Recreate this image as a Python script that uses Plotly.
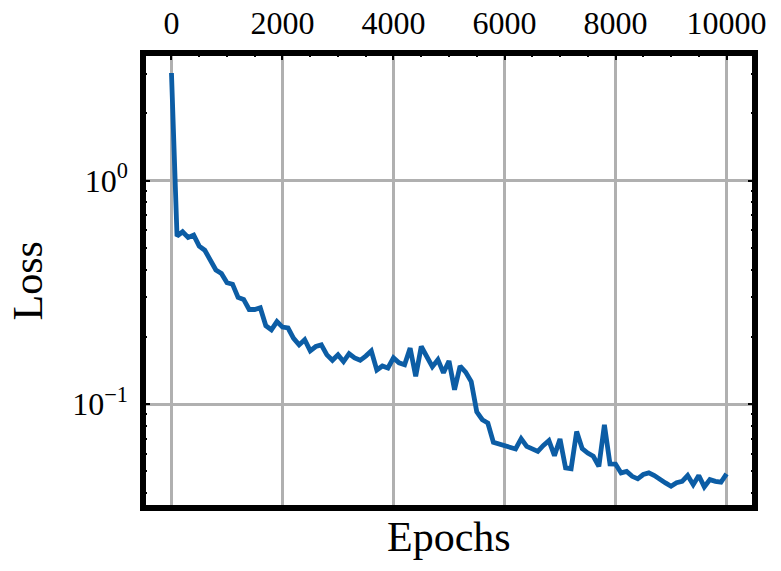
import plotly.graph_objects as go

epochs = list(range(0, 10001, 100))
loss = [
    3.03, 0.564, 0.590, 0.557, 0.570, 0.509, 0.488, 0.441, 0.398, 0.384,
    0.349, 0.344, 0.300, 0.294, 0.265, 0.265, 0.270, 0.224, 0.215, 0.234,
    0.221, 0.219, 0.197, 0.184, 0.194, 0.173, 0.181, 0.184, 0.166, 0.157,
    0.166, 0.155, 0.168, 0.161, 0.157, 0.164, 0.173, 0.142, 0.148, 0.145,
    0.161, 0.153, 0.150, 0.178, 0.133, 0.181, 0.163, 0.147, 0.158, 0.138,
    0.156, 0.116, 0.148, 0.139, 0.126, 0.0924, 0.0851, 0.0823, 0.0674, 0.0662,
    0.0653, 0.0643, 0.0630, 0.0700, 0.0647, 0.0630, 0.0614, 0.0653, 0.0686, 0.0588,
    0.0698, 0.0518, 0.0514, 0.0754, 0.0632, 0.0604, 0.0584, 0.0526, 0.0808, 0.0540,
    0.0539, 0.0492, 0.0500, 0.0475, 0.0463, 0.0484, 0.0492, 0.0479, 0.0459, 0.0444,
    0.0429, 0.0445, 0.0451, 0.0479, 0.0436, 0.0479, 0.0426, 0.0459, 0.0451, 0.0447,
    0.0487,
]

x_ticks = [0, 2000, 4000, 6000, 8000, 10000]
x_ticklabels = ["0", "2000", "4000", "6000", "8000", "10000"]
y_ticks = [1.0, 0.1]
y_ticklabels = ["10<sup>0</sup>", "10<sup>\u22121</sup>"]
y_minor = [0.04, 0.05, 0.06, 0.07, 0.08, 0.09, 0.2, 0.3, 0.4, 0.5, 0.6, 0.7, 0.8, 0.9, 2, 3]

FONT = "Liberation Serif"
BLUE = "#0C5DA5"
GRID = "#b0b0b0"

fig = go.Figure()
fig.add_trace(go.Scatter(x=epochs, y=loss, mode="lines",
                         line=dict(color=BLUE, width=4.8), showlegend=False))

fig.update_layout(
    width=781, height=571,
    margin=dict(l=143, r=26, t=52.5, b=62.5, autoexpand=False),
    paper_bgcolor="white", plot_bgcolor="white",
    font=dict(family=FONT, color="black", size=32),
    xaxis=dict(
        side="top", range=[-513, 10513], automargin=False,
        tickvals=x_ticks, ticktext=x_ticklabels,
        ticks="inside", ticklen=7, tickwidth=2, tickcolor="black",
        showgrid=True, gridcolor=GRID, gridwidth=2.5,
        zeroline=False, showline=False,
        minor=dict(dtick=500, ticks="inside", ticklen=4, tickwidth=1.5,
                   tickcolor="black", showgrid=False),
        tickfont=dict(family=FONT, size=32),
        ticklabelstandoff=12,
    ),
    yaxis=dict(
        type="log", range=[-1.465, 0.571], automargin=False,
        tickvals=y_ticks, ticktext=y_ticklabels,
        ticks="inside", ticklen=7, tickwidth=2, tickcolor="black",
        showgrid=True, gridcolor=GRID, gridwidth=2.5,
        zeroline=False, showline=True, linewidth=0.1, linecolor="black",
        mirror="ticks",
        minor=dict(tickvals=y_minor, ticks="inside", ticklen=4, tickwidth=1.5,
                   tickcolor="black", showgrid=False),
        tickfont=dict(family=FONT, size=32),
        ticklabelstandoff=8,
    ),
    shapes=[dict(type="rect", xref="paper", yref="paper", x0=0, x1=1, y0=0, y1=1,
                 line=dict(color="black", width=6), layer="above")],
    annotations=[
        dict(text="Epochs", xref="paper", yref="paper", x=0.5, y=-0.064,
             xanchor="center", yanchor="middle", showarrow=False,
             font=dict(family=FONT, size=42)),
        dict(text="Loss", xref="paper", yref="paper", x=-0.188, y=0.5,
             xanchor="center", yanchor="middle", showarrow=False, textangle=-90,
             font=dict(family=FONT, size=42)),
    ],
)

# remove the browser's default 8px page margin so the figure fills the window
fig.write_html("out.html", config={"displayModeBar": False},
               post_script="document.body.style.margin='0';")
